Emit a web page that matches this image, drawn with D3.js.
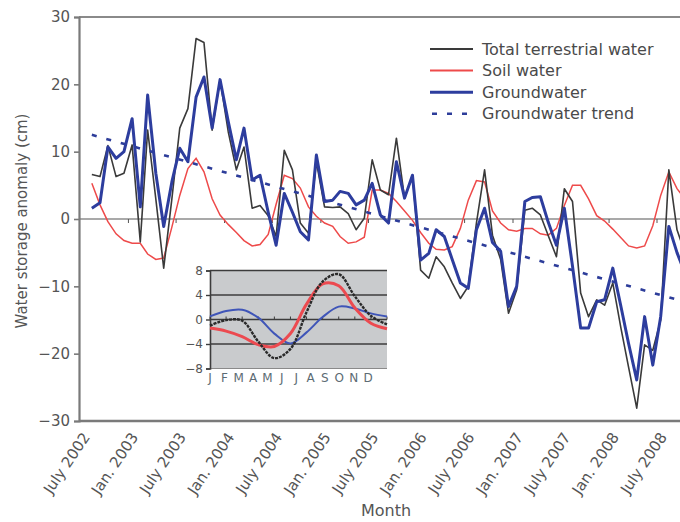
<!DOCTYPE html>
<html>
<head>
<meta charset="utf-8">
<script src="https://cdn.jsdelivr.net/npm/d3@7"></script>
<style>
body { margin: 0; background: #fff; }
svg { display: block; font-family: "DejaVu Sans", sans-serif; }
</style>
</head>
<body>
<svg id="chart" width="680" height="522"></svg>
<script>
// monthly anomalies (cm), Aug 2002 onwards
let firstMonth = new Date(2002, 7, 15);

let total = [6.6, 6.3, 10.9, 6.3, 6.8, 11.0, -3.4, 13.2, 3.0, -7.3, 3.0, 13.5, 16.4, 26.8, 26.2,
    13.2, 20.7, 13.0, 7.3, 10.7, 1.6, 2.0, 0.5, -2.6, 10.2, 7.3, -0.6, -2.1, 8.5, 1.8,
    1.7, 1.8, 0.8, -1.6, 0.1, 8.8, 4.3, 3.6, 12.0, 3.1, 6.5, -7.6, -8.8, -5.6, -7.1,
    -9.5, -11.8, -10.0, -0.6, 7.3, -2.4, -6.0, -14.0, -10.5, 1.3, 1.6, 0.6, -2.5, -5.6, 4.5,
    2.6, -11.0, -14.5, -12.0, -12.8, -9.5, -16.2, -22.0, -28.1, -18.7, -19.5, -15.0, 7.3, -1.6, -5.0];

let soil = [5.3, 2.1, -0.4, -2.2, -3.2, -3.6, -3.6, -5.2, -6.0, -5.8, -1.2, 3.5, 7.5, 9.0, 7.0,
    3.0, 0.6, -0.8, -2.0, -3.2, -4.0, -3.8, -2.3, 2.2, 6.5, 6.0, 4.6, 1.8, 0.4, -0.6,
    -1.1, -2.6, -3.6, -3.4, -2.7, 4.3, 4.3, 3.8, 2.6, 1.2, -0.2, -2.0, -3.6, -4.5, -4.6,
    -4.1, -1.4, 2.8, 5.7, 5.5, 1.2, -0.6, -1.6, -1.8, -1.4, -1.4, -2.2, -2.4, -1.4, 2.0,
    5.0, 5.0, 3.0, 0.5, -0.3, -1.5, -2.8, -4.0, -4.3, -4.0, -1.0, 3.5, 7.0, 4.5, 3.0];

let ground = [1.6, 2.4, 10.7, 9.0, 10.0, 14.9, 1.8, 18.4, 6.8, -1.1, 5.5, 10.5, 8.5, 18.1, 21.1,
    13.5, 20.7, 14.5, 8.8, 13.5, 5.8, 6.5, 1.0, -3.9, 3.8, 1.0, -1.9, -3.1, 9.5, 2.6,
    2.8, 4.1, 3.8, 2.1, 2.8, 5.3, 0.6, -0.6, 8.5, 3.1, 6.5, -6.1, -5.1, -1.6, -2.6,
    -6.0, -9.5, -10.3, -1.6, 1.6, -3.5, -4.8, -13.0, -10.0, 2.6, 3.2, 3.3, -0.5, -3.9, 1.6,
    -7.0, -16.2, -16.2, -12.3, -12.0, -7.3, -13.0, -18.5, -23.9, -14.5, -21.7, -14.5, -1.1, -5.0, -8.0];

let trendDates = [new Date(2002, 7, 15), new Date(2008, 9, 15)];
let trendValues = [12.5, -12.3];

let tickDates = ["2002-07", "2003-01", "2003-07", "2004-01", "2004-07", "2005-01", "2005-07",
    "2006-01", "2006-07", "2007-01", "2007-07", "2008-01", "2008-07"];
let tickLabels = ["July 2002", "Jan. 2003", "July 2003", "Jan. 2004", "July 2004", "Jan. 2005", "July 2005",
    "Jan. 2006", "July 2006", "Jan. 2007", "July 2007", "Jan. 2008", "July 2008"];
let yTicks = [-30, -20, -10, 0, 10, 20, 30];

let legendNames = ["Total terrestrial water", "Soil water", "Groundwater", "Groundwater trend"];

// inset: mean seasonal cycle
let insetMonths = ["J", "F", "M", "A", "M", "J", "J", "A", "S", "O", "N", "D"];
let insetTotal = [-1.0, -0.1, -0.2, -3.6, -6.3, -4.8, 1.2, 6.2, 7.4, 3.8, 0.6, -0.8];
let insetSoil = [-1.4, -1.9, -2.8, -4.1, -4.4, -2.3, 2.5, 5.8, 5.5, 1.9, -0.6, -1.5];
let insetGround = [0.5, 1.4, 1.6, 0.3, -2.3, -3.9, -2.1, 0.4, 2.1, 1.8, 1.0, 0.5];
let insetTicks = [-8, -4, 0, 4, 8];


let dates = total.map(function(d, i) { return d3.timeMonth.offset(firstMonth, i); });
let parseMonth = d3.timeParse("%Y-%m");

function fmt(d) {
    return d < 0 ? "\u2212" + Math.abs(d) : String(d);
}

let svg = d3.select("#chart");

let plot_left = 79, plot_top = 17, plot_bottom = 421, plot_right = 680;

let x = d3.scaleTime()
    .domain([new Date(2002, 6, 1), new Date(2008, 6, 1)])
    .range([80, 657]);
let y = d3.scaleLinear().domain([-30, 30]).range([plot_bottom, plot_top]);

svg.append("defs").append("clipPath").attr("id", "plotclip")
    .append("rect")
    .attr("x", plot_left).attr("y", plot_top)
    .attr("width", plot_right - plot_left + 2).attr("height", plot_bottom - plot_top);

// frame
svg.append("line")
    .attr("x1", plot_left).attr("x2", plot_right + 2)
    .attr("y1", plot_top).attr("y2", plot_top)
    .attr("stroke", "#8a8a8a").attr("stroke-width", 2);

// zero line with small ticks
svg.append("line")
    .attr("x1", plot_left).attr("x2", plot_right + 2)
    .attr("y1", y(0)).attr("y2", y(0))
    .attr("stroke", "#555").attr("stroke-width", 1.2);

svg.append("g").selectAll("line")
    .data(tickDates.slice(1))
    .enter().append("line")
    .attr("x1", function(d) { return x(parseMonth(d)); })
    .attr("x2", function(d) { return x(parseMonth(d)); })
    .attr("y1", y(0)).attr("y2", y(0) + 4)
    .attr("stroke", "#555").attr("stroke-width", 1);

// y axis
let yAxis = svg.append("g")
    .attr("transform", "translate(" + plot_left + ",0)")
    .call(d3.axisLeft(y).tickValues(yTicks).tickSize(5).tickPadding(4).tickFormat(fmt));
yAxis.select(".domain").attr("stroke", "#7a7a7a").attr("stroke-width", 2.2);
yAxis.selectAll(".tick line").attr("stroke", "#7a7a7a").attr("stroke-width", 1.6);
yAxis.selectAll(".tick text")
    .attr("fill", "#555")
    .style("font-size", "15px")
    .style("font-family", "'DejaVu Sans', sans-serif");

// x axis
let xAxis = svg.append("g")
    .attr("transform", "translate(0," + plot_bottom + ")")
    .call(d3.axisBottom(x)
        .tickValues(tickDates.map(parseMonth))
        .tickSize(0)
        .tickFormat(function(d, i) { return tickLabels[i]; }));
xAxis.select(".domain")
    .attr("d", "M" + plot_left + ",0H" + (plot_right + 2))
    .attr("stroke", "#7a7a7a").attr("stroke-width", 2.4);
xAxis.selectAll(".tick text")
    .attr("x", 0).attr("y", 0).attr("dy", null)
    .attr("transform", "translate(10,16) rotate(-56)")
    .style("text-anchor", "end")
    .attr("fill", "#555")
    .style("font-size", "15px")
    .style("font-family", "'DejaVu Sans', sans-serif");

// titles
svg.append("text")
    .attr("transform", "translate(27," + 221 + ") rotate(-90)")
    .attr("text-anchor", "middle")
    .attr("fill", "#555")
    .style("font-size", "15px")
    .text("Water storage anomaly (cm)");

svg.append("text")
    .attr("x", 386).attr("y", 516)
    .attr("text-anchor", "middle")
    .attr("fill", "#555")
    .style("font-size", "16px")
    .text("Month");

// series
let plot = svg.append("g").attr("clip-path", "url(#plotclip)");

let line = d3.line()
    .x(function(d) { return x(d[0]); })
    .y(function(d) { return y(d[1]); });

function pairs(vals) {
    return vals.map(function(v, i) { return [dates[i], v]; });
}

plot.append("path")
    .attr("d", line(pairs(soil)))
    .attr("fill", "none").attr("stroke", "#ee4a4a").attr("stroke-width", 1.5);

plot.append("path")
    .attr("d", line(pairs(total)))
    .attr("fill", "none").attr("stroke", "#3a3a3a").attr("stroke-width", 1.6)
    .attr("stroke-linejoin", "round");

plot.append("path")
    .attr("d", line(trendDates.map(function(d, i) { return [d, trendValues[i]]; })))
    .attr("fill", "none").attr("stroke", "#2d3d9a").attr("stroke-width", 2.6)
    .attr("stroke-dasharray", "5,10");

plot.append("path")
    .attr("d", line(pairs(ground)))
    .attr("fill", "none").attr("stroke", "#2d3d9e").attr("stroke-width", 3)
    .attr("stroke-linejoin", "round");

// legend
let legendColors = ["#3a3a3a", "#ee4a4a", "#2d3d9e", "#2d3d9a"];
let legendWidths = [2, 2, 3, 2.6];
let legend = svg.append("g")
    .selectAll("g")
    .data(legendNames)
    .enter().append("g")
    .attr("transform", function(d, i) { return "translate(430," + (49 + i * 21.6) + ")"; });

legend.append("line")
    .attr("x1", function(d, i) { return i == 3 ? 2 : 0; }).attr("x2", 43)
    .attr("stroke", function(d, i) { return legendColors[i]; })
    .attr("stroke-width", function(d, i) { return legendWidths[i]; })
    .attr("stroke-dasharray", function(d, i) { return i == 3 ? "5,10" : null; });

legend.append("text")
    .attr("x", 52).attr("y", 5.5)
    .attr("fill", "#4a4a4a")
    .style("font-size", "16px")
    .text(function(d) { return d; });

// inset
let ix = d3.scaleLinear().domain([0, 11]).range([210, 387]);
let iy = d3.scaleLinear().domain([-8, 8]).range([368.5, 270.5]);
let ilabel = d3.scalePoint().domain(d3.range(12)).range([210, 368]);

let inset = svg.append("g");

inset.append("rect")
    .attr("x", ix(0)).attr("y", iy(8))
    .attr("width", ix(11) - ix(0)).attr("height", iy(-8) - iy(8))
    .attr("fill", "#c9cbcd");

inset.append("g").selectAll("line")
    .data(insetTicks.slice(1))
    .enter().append("line")
    .attr("x1", ix(0)).attr("x2", ix(11))
    .attr("y1", function(d) { return iy(d); }).attr("y2", function(d) { return iy(d); })
    .attr("stroke", "#3c3c3c").attr("stroke-width", 1.4);

inset.append("line")
    .attr("x1", ix(0)).attr("x2", ix(11))
    .attr("y1", iy(-8)).attr("y2", iy(-8))
    .attr("stroke", "#8a8a8a").attr("stroke-width", 1);

inset.append("g").selectAll("line")
    .data(d3.range(12))
    .enter().append("line")
    .attr("x1", function(d) { return ix(d); }).attr("x2", function(d) { return ix(d); })
    .attr("y1", iy(0)).attr("y2", iy(0) - 3)
    .attr("stroke", "#3c3c3c").attr("stroke-width", 1);

let insetAxis = inset.append("g")
    .attr("transform", "translate(" + ix(0) + ",0)")
    .call(d3.axisLeft(iy).tickValues(insetTicks).tickSize(4).tickPadding(3).tickFormat(fmt));
insetAxis.select(".domain").attr("stroke", "#3c3c3c").attr("stroke-width", 1.6);
insetAxis.selectAll(".tick line").attr("stroke", "#3c3c3c").attr("stroke-width", 1.4);
insetAxis.selectAll(".tick text")
    .attr("fill", "#555")
    .style("font-size", "12px")
    .style("font-family", "'DejaVu Sans', sans-serif");

inset.append("g").selectAll("text")
    .data(insetMonths)
    .enter().append("text")
    .attr("x", function(d, i) { return ilabel(i); })
    .attr("y", 382)
    .attr("text-anchor", "middle")
    .attr("fill", "#5c6b74")
    .style("font-size", "12px")
    .text(function(d) { return d; });

let iline = d3.line()
    .x(function(d, i) { return ix(i); })
    .y(function(d) { return iy(d); })
    .curve(d3.curveCatmullRom);

inset.append("path")
    .attr("d", iline(insetGround))
    .attr("fill", "none").attr("stroke", "#3f55b8").attr("stroke-width", 2);

inset.append("path")
    .attr("d", iline(insetSoil))
    .attr("fill", "none").attr("stroke", "#ec4a50").attr("stroke-width", 3);

inset.append("path")
    .attr("d", iline(insetTotal))
    .attr("fill", "none").attr("stroke", "#2a2a2a").attr("stroke-width", 2.4)
    .attr("stroke-dasharray", "3,1");
</script>
</body>
</html>
